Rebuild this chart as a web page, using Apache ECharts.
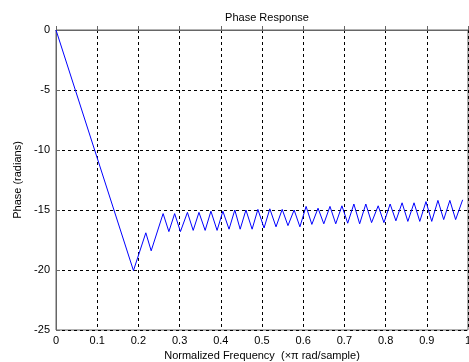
<!DOCTYPE html>
<html>
<head>
<meta charset="utf-8">
<script src="https://cdn.jsdelivr.net/npm/echarts@6/dist/echarts.min.js"></script>
<style>html,body{margin:0;padding:0;background:#fff;}#c{width:469px;height:362px;}</style>
</head>
<body>
<div id="c"></div>
<script>
// Normalized frequency (x pi rad/sample) and phase (radians)
const freq = [0, 0.188, 0.218, 0.231, 0.260, 0.274, 0.288, 0.302, 0.319, 0.333, 0.347, 0.362, 0.376, 0.391, 0.405, 0.420, 0.434, 0.447, 0.461, 0.476, 0.490, 0.505, 0.519, 0.534, 0.549, 0.563, 0.578, 0.592, 0.607, 0.621, 0.636, 0.650, 0.665, 0.679, 0.694, 0.708, 0.723, 0.737, 0.752, 0.766, 0.782, 0.796, 0.811, 0.825, 0.840, 0.854, 0.869, 0.883, 0.898, 0.912, 0.927, 0.941, 0.956, 0.970, 0.987];
const phase = [0, -20.05, -16.9, -18.4, -15.3, -16.8, -15.3, -16.8, -15.2, -16.7, -15.2, -16.7, -15.1, -16.7, -15.1, -16.6, -15.0, -16.6, -15.0, -16.6, -14.95, -16.5, -14.9, -16.4, -14.95, -16.3, -15.0, -16.4, -14.7, -16.2, -14.85, -16.15, -14.7, -16.15, -14.65, -16.1, -14.5, -16.15, -14.5, -16.05, -14.65, -16.05, -14.5, -15.9, -14.4, -15.95, -14.4, -15.95, -14.3, -15.95, -14.2, -15.8, -14.2, -15.8, -14.15];
const xTicks = [0, 0.1, 0.2, 0.3, 0.4, 0.5, 0.6, 0.7, 0.8, 0.9, 1];
const yTicks = [-25, -20, -15, -10, -5, 0];
const titleText = 'Phase Response';
const xName = 'Normalized Frequency  (\u00d7\u03c0 rad/sample)';
const yName = 'Phase (radians)';

const font = '"Liberation Sans", Arial, Helvetica, sans-serif';
const chart = echarts.init(document.getElementById('c'), null, {renderer: 'canvas'});
chart.setOption({
  animation: false,
  backgroundColor: '#fff',
  title: {
    text: titleText, left: 262, top: 7, textAlign: 'center',
    textStyle: {fontFamily: font, fontSize: 11, fontWeight: 'normal', color: '#000'}
  },
  grid: {left: 56, right: 1, top: 30, bottom: 32, outerBoundsMode: 'none', containLabel: false,
    show: true, borderColor: '#666', borderWidth: 1, backgroundColor: '#fff'},
  xAxis: {
    type: 'value', min: xTicks[0], max: xTicks[xTicks.length - 1], interval: 0.1,
    name: xName, nameLocation: 'middle', nameGap: 19,
    nameTextStyle: {fontFamily: font, fontSize: 11, color: '#000'},
    axisLine: {show: true, lineStyle: {color: '#666', width: 1}},
    axisTick: {show: true, inside: true, length: 4, lineStyle: {color: '#666'}},
    axisLabel: {fontFamily: font, fontSize: 11, color: '#000', margin: 5,
      formatter: v => String(Math.round(v * 10) / 10)},
    splitLine: {show: true, lineStyle: {color: '#000', type: [3, 3], width: 1}}
  },
  yAxis: {
    type: 'value', min: yTicks[0], max: yTicks[yTicks.length - 1], interval: 5,
    name: yName, nameLocation: 'middle', nameGap: 33, nameRotate: 90,
    nameTextStyle: {fontFamily: font, fontSize: 11, color: '#000'},
    axisLine: {show: true, lineStyle: {color: '#666', width: 1}},
    axisTick: {show: true, inside: true, length: 4, lineStyle: {color: '#666'}},
    axisLabel: {fontFamily: font, fontSize: 11, color: '#000', margin: 6},
    splitLine: {show: true, lineStyle: {color: '#000', type: [3, 3], width: 1}}
  },
  series: [{
    type: 'line', data: freq.map((f, i) => [f, phase[i]]),
    symbol: 'none', lineStyle: {color: '#0000ff', width: 1}, z: 5
  }]
});
</script>
</body>
</html>
